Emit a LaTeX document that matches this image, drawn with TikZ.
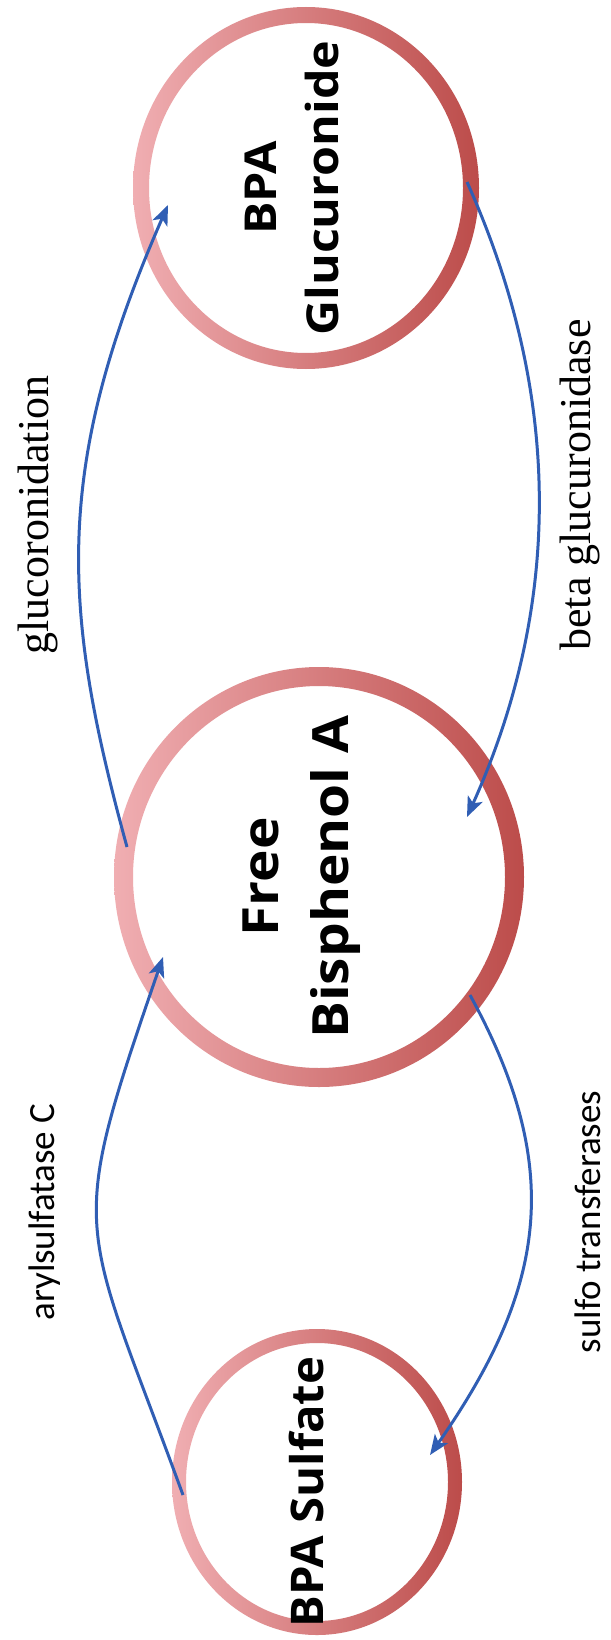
\documentclass[tikz,border=0pt]{standalone}
\usepackage{fontspec}
\setmainfont{Liberation Serif}
\newfontfamily\nodefont{Open Sans}
\newfontfamily\calibfont{Carlito}
\usetikzlibrary{arrows.meta}
\definecolor{ringL}{RGB}{240,174,178}
\definecolor{ringR}{RGB}{188,76,74}
\definecolor{arrowblue}{RGB}{48,94,180}
\begin{document}
\begin{tikzpicture}[x=1pt,y=1pt,
  ringshade/.style={left color=ringL, right color=ringR, even odd rule},
  arr/.style={draw=arrowblue, line width=3pt, -{Stealth[length=20pt,width=16pt,inset=5pt]}},
  bigtext/.style={rotate=90, align=center, text=black},
  serlabel/.style={rotate=90, font=\fontsize{44}{52}\selectfont},
  sanslabel/.style={rotate=90, font=\calibfont\fontsize{37}{44}\selectfont}]
\useasboundingbox (0,0) rectangle (610,-1640);
\fill[white] (0,0) rectangle (610,-1640);
% rings
\shade[ringshade] (306,-188) ellipse [x radius=173, y radius=181] (306,-188) ellipse [x radius=157, y radius=165];
\shade[ringshade] (319,-877) ellipse [x radius=205, y radius=210] (319,-877) ellipse [x radius=186, y radius=191];
\shade[ringshade] (317,-1482) ellipse [x radius=145, y radius=153] (317,-1482) ellipse [x radius=131, y radius=139];
% node texts
\node[bigtext, xscale=1.1, font=\nodefont\bfseries\fontsize{44}{62}\selectfont] (gluc) at (292,-188) {BPA\\Glucuronide};
\node[bigtext, xscale=1.1, font=\nodefont\bfseries\fontsize{50}{70}\selectfont] (free) at (302,-877) {Free\\Bisphenol A};
\node[bigtext, xscale=1.05, font=\nodefont\bfseries\fontsize{45}{60}\selectfont] (sulf) at (306,-1492) {BPA Sulfate};
% arrow end points
\coordinate (g1) at (127,-847); \coordinate (g2) at (168,-205);
\coordinate (b1) at (467,-182); \coordinate (b2) at (467,-817);
\coordinate (s1) at (470,-995); \coordinate (s2) at (430,-1455);
\coordinate (a1) at (183,-1495); \coordinate (a2) at (163,-957);
\draw[arr] (g1) .. controls (62,-610) and (52,-470) .. (g2);
\draw[arr] (b1) .. controls (565,-400) and (560,-610) .. (b2);
\draw[arr] (s1) .. controls (566,-1170) and (545,-1290) .. (s2);
\draw[arr] (a1) .. controls (80,-1213) and (65,-1241) .. (a2);
% labels
\node[serlabel] (lglu) at (38,-515) {glucoronidation};
\node[serlabel] (lbeta) at (580,-485) {beta glucuronidase};
\node[sanslabel] (laryl) at (45,-1212) {arylsulfatase C};
\node[sanslabel] (lsulfo) at (588,-1222) {sulfo transferases};
\end{tikzpicture}
\end{document}
